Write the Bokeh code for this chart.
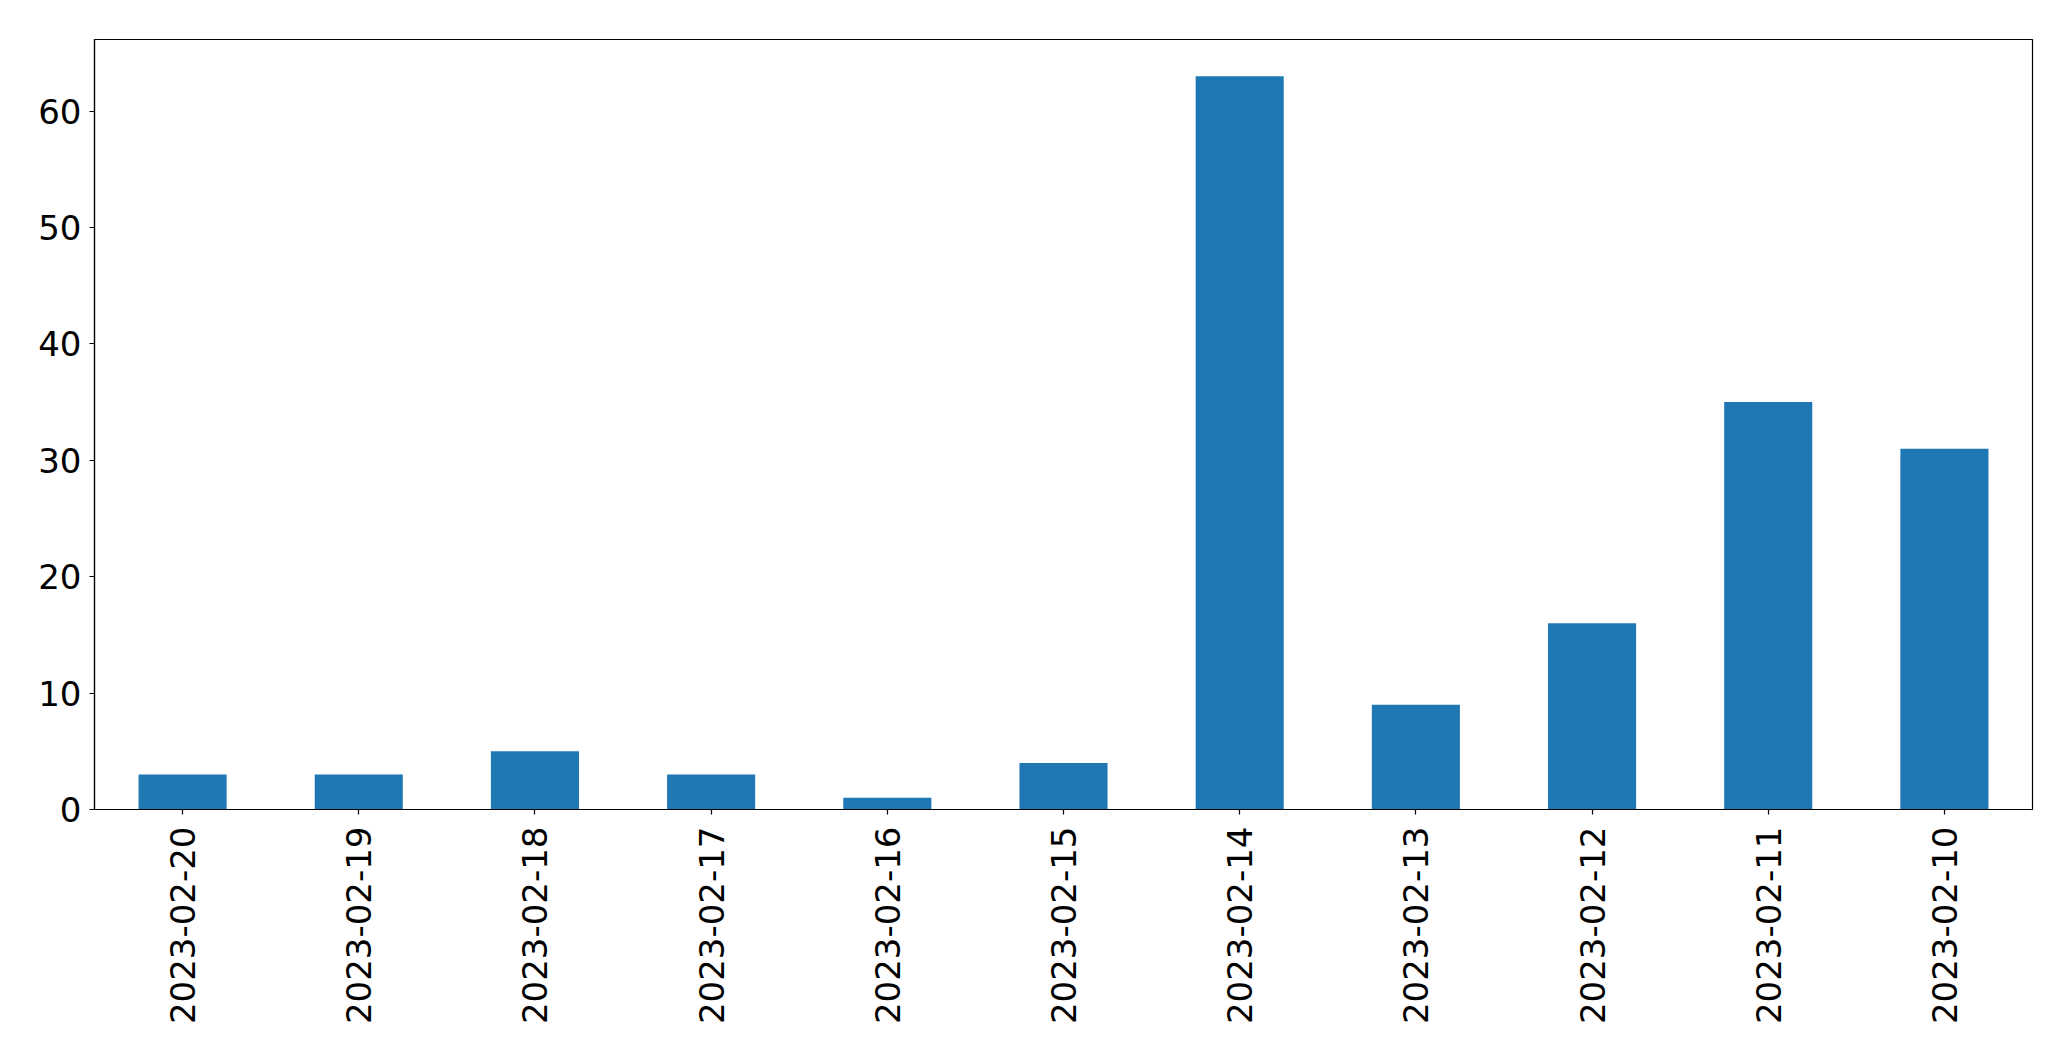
from bokeh.plotting import figure
from bokeh.models import FactorRange, Range1d, FixedTicker, ColumnDataSource
from bokeh.embed import file_html
from bokeh.resources import INLINE
import math

dates = ["2023-02-20", "2023-02-19", "2023-02-18", "2023-02-17", "2023-02-16",
         "2023-02-15", "2023-02-14", "2023-02-13", "2023-02-12", "2023-02-11",
         "2023-02-10"]
counts = [3, 3, 5, 3, 1, 4, 63, 9, 16, 35, 31]
y_ticks = [0, 10, 20, 30, 40, 50, 60]

src = ColumnDataSource(dict(x=dates, top=counts))

p = figure(x_range=FactorRange(*dates, range_padding=0),
           y_range=Range1d(0, max(counts) * 1.05),
           frame_width=1938, frame_height=770,
           min_border_left=94, min_border_right=31, min_border_top=39, min_border_bottom=220,
           output_backend="svg", toolbar_location=None)

p.vbar(x="x", top="top", width=0.5, source=src, color="#1f77b4", line_color=None)

p.xgrid.grid_line_color = None
p.ygrid.grid_line_color = None
p.outline_line_color = "black"
p.outline_line_width = 1.2
p.outline_line_alpha = 1
p.background_fill_color = "white"
p.border_fill_color = "white"

p.yaxis.ticker = FixedTicker(ticks=y_ticks)
for ax in (p.xaxis, p.yaxis):
    ax.axis_line_color = "black"
    ax.axis_line_width = 1.2
    ax.major_tick_line_color = "black"
    ax.major_tick_line_width = 1.2
    ax.major_tick_in = 0
    ax.major_tick_out = 5
    ax.minor_tick_line_color = None
    ax.major_label_text_font = "DejaVu Sans"
    ax.major_label_text_font_size = "34px"
    ax.major_label_text_color = "black"
p.xaxis.major_label_orientation = math.pi / 2
p.xaxis.major_label_standoff = 12
p.yaxis.major_label_standoff = 8
p.x_range.factor_padding = 0

open("out.html", "w").write(file_html(p, INLINE))
